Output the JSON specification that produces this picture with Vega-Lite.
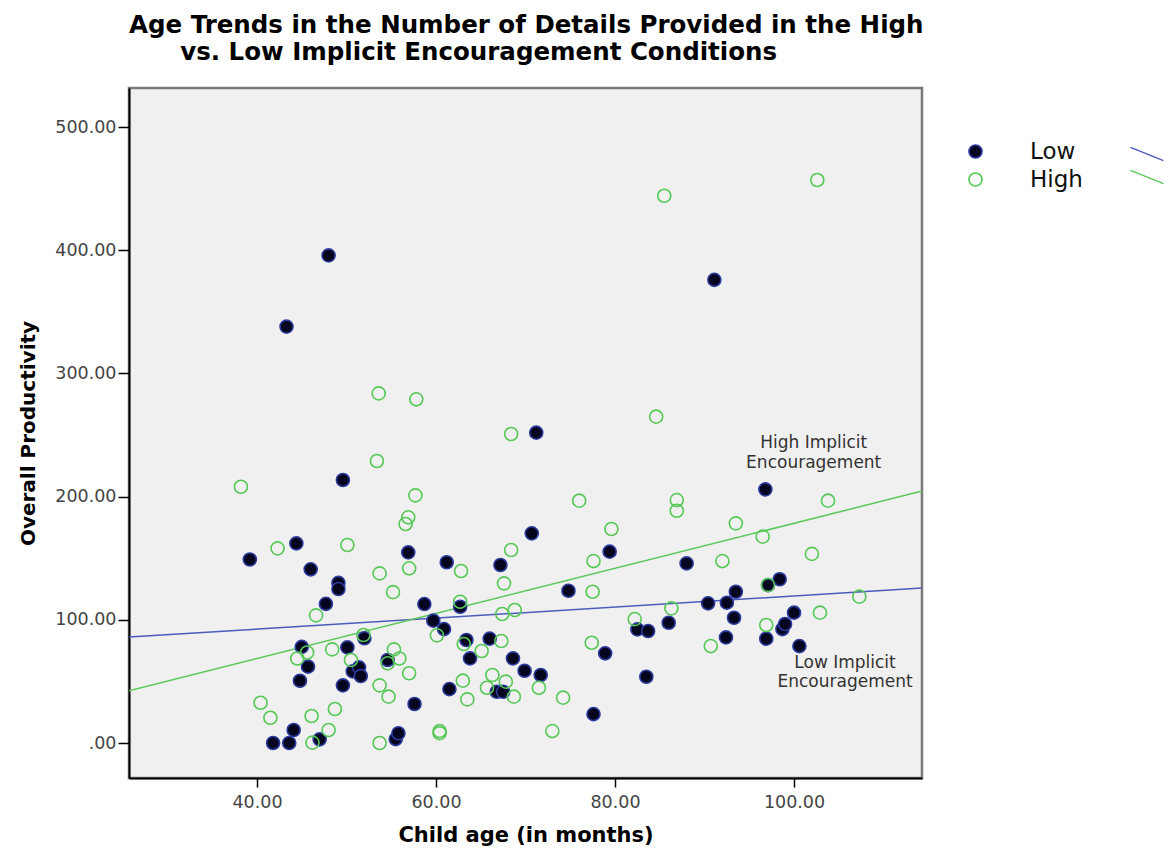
{
  "$schema": "https://vega.github.io/schema/vega-lite/v6.json",
  "width": 793,
  "height": 690,
  "autosize": {"type": "none"},
  "padding": {"left": 129, "top": 88, "right": 247, "bottom": 78},
  "background": "white",
  "title": {
    "text": ["Age Trends in the Number of Details Provided in the High", "\u200b\u00a0\u00a0\u00a0\u00a0\u00a0\u00a0vs. Low Implicit Encouragement Conditions"],
    "anchor": "start",
    "frame": "group",
    "font": "DejaVu Sans",
    "fontSize": 24.5,
    "fontWeight": "bold",
    "color": "#000000",
    "lineHeight": 27,
    "offset": 23
  },
  "datasets": {
    "points": [
      {"age": 39.2, "prod": 149, "group": "Low"},
      {"age": 41.8, "prod": 0, "group": "Low"},
      {"age": 43.6, "prod": 0, "group": "Low"},
      {"age": 43.3, "prod": 338, "group": "Low"},
      {"age": 44.1, "prod": 10.6, "group": "Low"},
      {"age": 44.4, "prod": 162, "group": "Low"},
      {"age": 44.8, "prod": 50.5, "group": "Low"},
      {"age": 45.0, "prod": 78, "group": "Low"},
      {"age": 45.7, "prod": 62, "group": "Low"},
      {"age": 46.0, "prod": 141, "group": "Low"},
      {"age": 47.0, "prod": 3, "group": "Low"},
      {"age": 47.7, "prod": 113, "group": "Low"},
      {"age": 48.0, "prod": 395.8, "group": "Low"},
      {"age": 49.1, "prod": 130, "group": "Low"},
      {"age": 49.1, "prod": 125, "group": "Low"},
      {"age": 49.6, "prod": 213.5, "group": "Low"},
      {"age": 49.6, "prod": 46.8, "group": "Low"},
      {"age": 50.1, "prod": 77.6, "group": "Low"},
      {"age": 50.7, "prod": 58.2, "group": "Low"},
      {"age": 51.4, "prod": 61.4, "group": "Low"},
      {"age": 51.6, "prod": 54.4, "group": "Low"},
      {"age": 52.0, "prod": 85, "group": "Low"},
      {"age": 54.6, "prod": 67.4, "group": "Low"},
      {"age": 55.5, "prod": 3.2, "group": "Low"},
      {"age": 55.8, "prod": 7.9, "group": "Low"},
      {"age": 56.9, "prod": 154.7, "group": "Low"},
      {"age": 57.6, "prod": 31.7, "group": "Low"},
      {"age": 58.7, "prod": 112.8, "group": "Low"},
      {"age": 59.7, "prod": 99.3, "group": "Low"},
      {"age": 60.9, "prod": 92.5, "group": "Low"},
      {"age": 61.2, "prod": 146.7, "group": "Low"},
      {"age": 61.5, "prod": 43.8, "group": "Low"},
      {"age": 62.7, "prod": 110.6, "group": "Low"},
      {"age": 63.4, "prod": 83.6, "group": "Low"},
      {"age": 63.8, "prod": 68.7, "group": "Low"},
      {"age": 66.0, "prod": 84.7, "group": "Low"},
      {"age": 66.8, "prod": 41.6, "group": "Low"},
      {"age": 67.2, "prod": 144.5, "group": "Low"},
      {"age": 67.5, "prod": 41.6, "group": "Low"},
      {"age": 68.6, "prod": 68.7, "group": "Low"},
      {"age": 69.9, "prod": 58.7, "group": "Low"},
      {"age": 70.7, "prod": 170.2, "group": "Low"},
      {"age": 71.2, "prod": 251.9, "group": "Low"},
      {"age": 71.7, "prod": 55.2, "group": "Low"},
      {"age": 74.8, "prod": 123.6, "group": "Low"},
      {"age": 77.6, "prod": 23.5, "group": "Low"},
      {"age": 78.9, "prod": 72.8, "group": "Low"},
      {"age": 79.4, "prod": 155.3, "group": "Low"},
      {"age": 82.5, "prod": 92.2, "group": "Low"},
      {"age": 83.5, "prod": 53.8, "group": "Low"},
      {"age": 83.7, "prod": 90.9, "group": "Low"},
      {"age": 86.0, "prod": 97.6, "group": "Low"},
      {"age": 88.0, "prod": 145.8, "group": "Low"},
      {"age": 90.4, "prod": 113.4, "group": "Low"},
      {"age": 91.1, "prod": 376, "group": "Low"},
      {"age": 92.4, "prod": 85.7, "group": "Low"},
      {"age": 92.5, "prod": 113.9, "group": "Low"},
      {"age": 93.3, "prod": 101.7, "group": "Low"},
      {"age": 93.5, "prod": 122.8, "group": "Low"},
      {"age": 96.8, "prod": 205.9, "group": "Low"},
      {"age": 96.9, "prod": 84.7, "group": "Low"},
      {"age": 97.1, "prod": 128.2, "group": "Low"},
      {"age": 98.4, "prod": 132.9, "group": "Low"},
      {"age": 98.7, "prod": 92.5, "group": "Low"},
      {"age": 99.0, "prod": 96.6, "group": "Low"},
      {"age": 100.0, "prod": 105.8, "group": "Low"},
      {"age": 100.6, "prod": 78.7, "group": "Low"},
      {"age": 38.2, "prod": 208, "group": "High"},
      {"age": 42.3, "prod": 158, "group": "High"},
      {"age": 40.4, "prod": 32.7, "group": "High"},
      {"age": 41.5, "prod": 20.5, "group": "High"},
      {"age": 44.5, "prod": 68.6, "group": "High"},
      {"age": 45.6, "prod": 73.5, "group": "High"},
      {"age": 46.1, "prod": 21.9, "group": "High"},
      {"age": 46.2, "prod": 0.3, "group": "High"},
      {"age": 46.6, "prod": 103.6, "group": "High"},
      {"age": 48.0, "prod": 10.6, "group": "High"},
      {"age": 48.4, "prod": 76, "group": "High"},
      {"age": 48.7, "prod": 27.6, "group": "High"},
      {"age": 50.1, "prod": 160.7, "group": "High"},
      {"age": 50.5, "prod": 67.4, "group": "High"},
      {"age": 51.9, "prod": 87.7, "group": "High"},
      {"age": 53.6, "prod": 283.8, "group": "High"},
      {"age": 53.4, "prod": 228.9, "group": "High"},
      {"age": 53.7, "prod": 137.7, "group": "High"},
      {"age": 53.7, "prod": 46.8, "group": "High"},
      {"age": 53.7, "prod": 0, "group": "High"},
      {"age": 54.6, "prod": 64.7, "group": "High"},
      {"age": 54.7, "prod": 37.6, "group": "High"},
      {"age": 55.2, "prod": 122.5, "group": "High"},
      {"age": 55.3, "prod": 76, "group": "High"},
      {"age": 55.9, "prod": 68.6, "group": "High"},
      {"age": 56.6, "prod": 177.8, "group": "High"},
      {"age": 56.9, "prod": 183.2, "group": "High"},
      {"age": 57.0, "prod": 141.8, "group": "High"},
      {"age": 57.0, "prod": 56.6, "group": "High"},
      {"age": 57.8, "prod": 279, "group": "High"},
      {"age": 57.7, "prod": 201, "group": "High"},
      {"age": 60.1, "prod": 87.4, "group": "High"},
      {"age": 60.4, "prod": 9.7, "group": "High"},
      {"age": 60.4, "prod": 8, "group": "High"},
      {"age": 62.8, "prod": 139.6, "group": "High"},
      {"age": 62.7, "prod": 114.7, "group": "High"},
      {"age": 63.1, "prod": 80.4, "group": "High"},
      {"age": 63.0, "prod": 50.6, "group": "High"},
      {"age": 63.5, "prod": 35.4, "group": "High"},
      {"age": 65.1, "prod": 74.7, "group": "High"},
      {"age": 65.7, "prod": 44.9, "group": "High"},
      {"age": 66.3, "prod": 55.2, "group": "High"},
      {"age": 67.3, "prod": 82.8, "group": "High"},
      {"age": 67.4, "prod": 104.7, "group": "High"},
      {"age": 67.6, "prod": 129.6, "group": "High"},
      {"age": 67.8, "prod": 49.8, "group": "High"},
      {"age": 68.4, "prod": 250.8, "group": "High"},
      {"age": 68.4, "prod": 156.7, "group": "High"},
      {"age": 68.8, "prod": 108, "group": "High"},
      {"age": 68.7, "prod": 37.6, "group": "High"},
      {"age": 71.5, "prod": 44.9, "group": "High"},
      {"age": 73.0, "prod": 9.7, "group": "High"},
      {"age": 74.2, "prod": 36.8, "group": "High"},
      {"age": 76.0, "prod": 196.7, "group": "High"},
      {"age": 77.4, "prod": 81.4, "group": "High"},
      {"age": 77.5, "prod": 122.8, "group": "High"},
      {"age": 77.6, "prod": 147.7, "group": "High"},
      {"age": 79.6, "prod": 173.7, "group": "High"},
      {"age": 82.2, "prod": 100.6, "group": "High"},
      {"age": 84.6, "prod": 264.9, "group": "High"},
      {"age": 85.5, "prod": 444.2, "group": "High"},
      {"age": 86.3, "prod": 109.3, "group": "High"},
      {"age": 86.9, "prod": 197.2, "group": "High"},
      {"age": 86.9, "prod": 188.5, "group": "High"},
      {"age": 90.7, "prod": 78.7, "group": "High"},
      {"age": 92.0, "prod": 147.7, "group": "High"},
      {"age": 93.5, "prod": 178.3, "group": "High"},
      {"age": 96.5, "prod": 167.5, "group": "High"},
      {"age": 96.9, "prod": 95.8, "group": "High"},
      {"age": 97.1, "prod": 128.2, "group": "High"},
      {"age": 102.0, "prod": 153.5, "group": "High"},
      {"age": 102.6, "prod": 457, "group": "High"},
      {"age": 102.9, "prod": 105.8, "group": "High"},
      {"age": 103.8, "prod": 196.7, "group": "High"},
      {"age": 107.3, "prod": 118.8, "group": "High"}
    ],
    "fits": [
      {"age": 25.7, "prod": 86, "group": "Low"},
      {"age": 114.3, "prod": 125.8, "group": "Low"},
      {"age": 25.7, "prod": 42.5, "group": "High"},
      {"age": 114.3, "prod": 204.5, "group": "High"}
    ],
    "notes": [
      {"age": 102.2, "prod": 243.5, "label": "High Implicit"},
      {"age": 102.2, "prod": 227.3, "label": "Encouragement"},
      {"age": 105.7, "prod": 65.3, "label": "Low Implicit"},
      {"age": 105.7, "prod": 49.9, "label": "Encouragement"}
    ]
  },
  "encoding": {
    "x": {
      "field": "age",
      "type": "quantitative",
      "scale": {"domain": [25.7, 114.3], "nice": false, "zero": false},
      "axis": {
        "title": "Child age (in months)",
        "values": [40, 60, 80, 100],
        "format": ".2f",
        "tickSize": 9,
        "labelPadding": 6,
        "titlePadding": 14
      }
    },
    "y": {
      "field": "prod",
      "type": "quantitative",
      "scale": {"domain": [-28.4, 531.7], "nice": false, "zero": false},
      "axis": {
        "title": "Overall Productivity",
        "values": [0, 100, 200, 300, 400, 500],
        "labelExpr": "datum.value == 0 ? '.00' : format(datum.value, '.2f')",
        "tickSize": 11,
        "labelPadding": 2,
        "titlePadding": 16
      }
    }
  },
  "layer": [
    {
      "data": {"name": "fits"},
      "mark": {"type": "line", "strokeWidth": 1.5, "clip": true},
      "encoding": {
        "stroke": {
          "field": "group",
          "type": "nominal",
          "scale": {"domain": ["Low", "High"], "range": ["#4b5bbd", "#5ac85a"]},
          "legend": {
            "orient": "none",
            "legendX": 1009,
            "legendY": 57,
            "title": null,
            "symbolType": "M-2,-0.8L2,0.8",
            "symbolSize": 272,
            "symbolStrokeWidth": 1.5,
            "labelExpr": "''",
            "labelFontSize": 1,
            "padding": 0,
            "rowPadding": 3
          }
        }
      }
    },
    {
      "data": {"name": "points"},
      "mark": {"type": "point", "shape": "circle", "opacity": 1, "size": 170, "strokeWidth": 1.6},
      "encoding": {
        "fill": {
          "field": "group",
          "type": "nominal",
          "scale": {"domain": ["Low", "High"], "range": ["#05051f", "transparent"]},
          "legend": {
            "orient": "none",
            "legendX": 835,
            "legendY": 52,
            "title": null,
            "symbolSize": 170,
            "symbolStrokeWidth": 1.6,
            "labelFont": "DejaVu Sans",
            "labelFontSize": 23,
            "labelColor": "#111111",
            "labelOffset": 43,
            "padding": 0,
            "rowPadding": 4
          }
        },
        "stroke": {
          "field": "group",
          "type": "nominal",
          "scale": {"domain": ["Low", "High"], "range": ["#2c3a9c", "#55c855"]},
          "legend": {
            "orient": "none",
            "legendX": 835,
            "legendY": 52,
            "title": null,
            "symbolSize": 170,
            "symbolStrokeWidth": 1.6,
            "labelFont": "DejaVu Sans",
            "labelFontSize": 23,
            "labelColor": "#111111",
            "labelOffset": 43,
            "padding": 0,
            "rowPadding": 4
          }
        }
      }
    },
    {
      "data": {"name": "notes"},
      "mark": {"type": "text", "font": "DejaVu Sans", "fontSize": 17, "color": "#333333", "align": "center", "baseline": "middle"},
      "encoding": {"text": {"field": "label", "type": "nominal"}}
    }
  ],
  "resolve": {
    "scale": {"stroke": "independent", "fill": "independent"},
    "legend": {"stroke": "independent", "fill": "independent"}
  },
  "config": {
    "view": {"fill": "#f0f0f0", "stroke": "#7a7a7a", "strokeWidth": 2.5},
    "axis": {
      "grid": false,
      "domainColor": "#000000",
      "domainWidth": 2,
      "tickColor": "#000000",
      "tickWidth": 1.5,
      "labelFont": "DejaVu Sans",
      "labelFontSize": 17.5,
      "labelColor": "#444444",
      "titleFont": "DejaVu Sans",
      "titleFontWeight": "bold",
      "titleColor": "#000000"
    },
    "axisX": {"titleFontSize": 21},
    "axisY": {"titleFontSize": 20}
  }
}
